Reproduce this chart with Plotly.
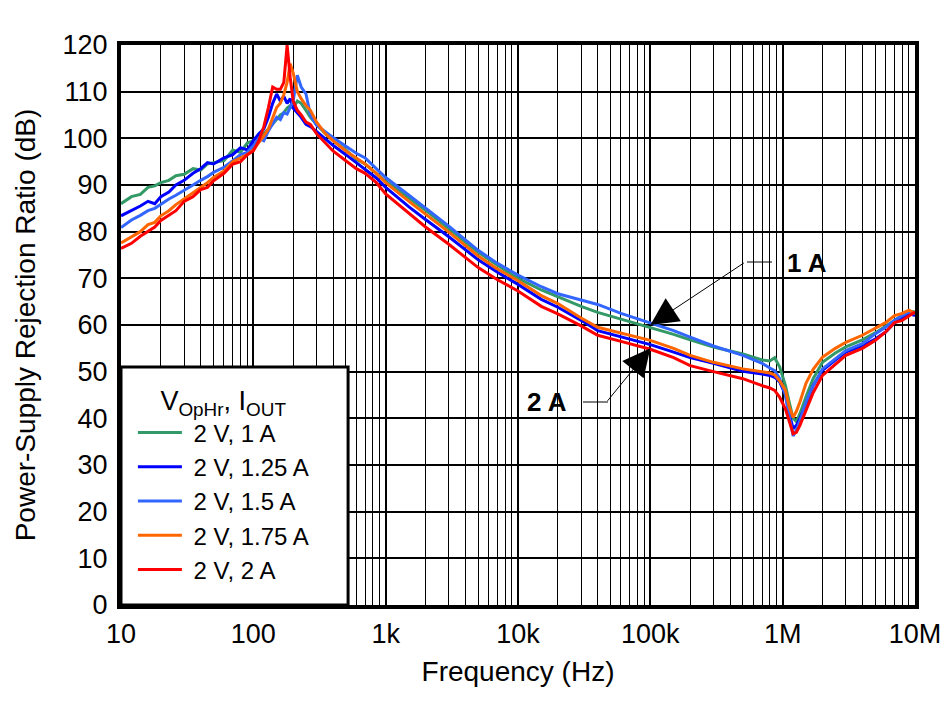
import plotly.graph_objects as go

freq_hz = [10, 12, 14, 16, 18, 20, 23, 26, 30, 35, 40, 45, 50, 60, 70, 80, 90,
           100, 110, 120, 130, 140, 150, 160, 170, 180, 190, 200, 215, 230, 250, 270,
           300, 350, 400, 500, 600, 700, 850, 1e3, 1.5e3, 2e3, 3e3, 5e3, 7e3, 1e4,
           1.5e4, 2e4, 3e4, 4e4, 6e4, 1e5, 1.5e5, 2e5, 3e5, 5e5, 7e5, 8e5, 8.7e5,
           9.5e5, 1.05e6, 1.12e6, 1.2e6, 1.27e6, 1.35e6, 1.5e6, 1.7e6, 2e6, 2.5e6,
           3e6, 4e6, 5e6, 6e6, 7e6, 8e6, 9e6, 1e7]

psrr_1a = [86.0, 87.5, 88.0, 89.5, 89.8, 90.5, 91.0, 92.0, 92.3, 93.5, 93.2, 94.5, 94.8, 95.2, 97.5, 97.0, 99.0,
           99.5, 100.5, 101.0, 102.0, 103.0, 104.0, 105.0, 105.5, 106.5, 107.0, 106.5, 108.0, 107.5, 106.0, 104.5,
           103.0, 101.0, 99.5, 97.5, 95.5, 94.5, 92.5, 90.8, 87.2, 84.6, 80.6, 75.6, 72.8, 70.0,
           67.5, 66.0, 64.0, 62.7, 61.3, 59.5, 58.0, 56.8, 55.3, 53.8, 52.5, 52.3, 53.0,
           51.0, 47.0, 43.5, 40.0, 39.3, 41.0, 44.6, 48.5, 52.0, 54.0,
           55.3, 56.8, 58.3, 59.8, 61.0, 62.0, 63.0, 62.8]

psrr_125a = [83.4, 84.5, 85.5, 86.5, 86.0, 87.5, 88.5, 90.0, 91.0, 92.5, 93.5, 94.8, 94.5, 95.8, 96.5, 98.0, 97.5,
             99.5, 101.0, 102.0, 104.5, 107.5, 109.5, 108.0, 109.0, 107.5, 108.5, 106.5, 105.5, 104.5, 103.0, 102.5,
             101.5, 99.8, 98.5, 96.5, 94.8, 93.5, 91.5, 89.5, 85.3, 82.6, 78.9, 74.0, 71.3, 68.7,
             65.5, 63.8, 61.0, 58.8, 57.5, 55.8, 54.2, 53.0, 51.8, 50.1, 49.5, 49.2, 48.8,
             47.8, 45.0, 41.0, 37.8, 38.5, 40.0, 43.0, 47.0, 50.3, 52.5,
             54.2, 55.5, 57.0, 58.5, 60.5, 61.5, 62.5, 62.0]

psrr_15a = [80.9, 82.5, 83.5, 84.5, 85.0, 85.9, 87.0, 87.8, 88.8, 90.0, 91.0, 91.8, 92.7, 93.8, 95.2, 96.5, 97.0,
            98.4, 100.0, 99.5, 101.6, 103.0, 104.5, 104.0, 105.5, 105.2, 106.5, 108.0, 113.5, 111.0, 109.5, 105.0,
            102.8, 101.5, 100.2, 98.3, 96.8, 95.8, 93.5, 91.6, 87.8, 85.0, 81.2, 76.0, 73.2, 70.7,
            68.2, 66.7, 65.3, 64.4, 62.5, 60.5, 58.8, 57.4, 55.5, 53.5, 51.8, 50.8, 50.2,
            48.5, 45.0, 40.5, 36.2, 37.5, 39.5, 43.5, 47.0, 50.6, 52.8,
            54.5, 56.0, 58.1, 59.5, 61.0, 62.0, 62.8, 62.5]

psrr_175a = [77.6, 79.0, 80.0, 81.5, 82.0, 83.4, 84.5, 85.8, 87.0, 88.3, 89.5, 90.5, 91.6, 93.0, 95.0, 95.8, 96.5,
             97.5, 99.0, 100.5, 102.0, 104.5, 106.6, 107.5, 109.4, 112.0, 116.0, 114.0, 110.0, 108.5, 107.0, 106.0,
             103.5, 101.0, 99.5, 97.3, 95.8, 94.5, 92.5, 90.5, 86.5, 83.8, 79.9, 74.8, 72.0, 69.5,
             66.3, 64.6, 61.5, 59.5, 58.3, 56.7, 55.0, 53.5, 52.0, 50.6, 50.0, 49.7, 49.3,
             48.0, 46.0, 42.5, 40.2, 41.5, 43.5, 47.5, 50.5, 53.1, 55.0,
             56.3, 57.8, 59.2, 60.5, 62.0, 62.5, 63.2, 62.5]

psrr_2a = [76.4, 77.5, 79.0, 80.0, 81.0, 82.4, 83.5, 84.5, 86.5, 87.5, 89.0, 89.5, 90.9, 92.5, 94.5, 95.0, 96.5,
           97.3, 99.5, 102.5, 106.6, 111.0, 110.5, 110.5, 112.0, 120.0, 113.0, 108.0, 106.0, 105.0, 103.5, 103.0,
           101.0, 99.0, 97.3, 95.2, 93.5, 92.5, 90.5, 88.1, 84.0, 81.0, 77.3, 72.3, 69.7, 67.3,
           64.0, 62.4, 59.8, 57.8, 56.5, 54.8, 53.0, 51.3, 50.0, 48.5, 47.0, 46.5, 46.0,
           44.5, 42.0, 39.5, 36.7, 37.0, 38.5, 41.7, 45.5, 49.2, 51.5,
           53.5, 55.0, 56.7, 58.5, 60.5, 61.0, 62.0, 62.8]

series_names = ["\u00a02 V, 1 A", "\u00a02 V, 1.25 A", "\u00a02 V, 1.5 A", "\u00a02 V, 1.75 A", "\u00a02 V, 2 A"]
series_colors = ["#339966", "#0000FF", "#3366FF", "#FF6600", "#FF0000"]
series_values = [psrr_1a, psrr_125a, psrr_15a, psrr_175a, psrr_2a]

x_tick_vals = [10, 100, 1e3, 1e4, 1e5, 1e6, 1e7]
x_tick_text = ["10", "100", "1k", "10k", "100k", "1M", "10M"]

FONT = "Arial, Liberation Sans, sans-serif"

fig = go.Figure()
for name, vals, color in zip(series_names, series_values, series_colors):
    fig.add_trace(go.Scatter(x=freq_hz, y=vals, mode="lines", name=name,
                             line=dict(color=color, width=3)))

minor_vals = [m * 10 ** d for d in range(1, 7) for m in range(2, 10)]

fig.update_layout(
    width=944, height=701,
    margin=dict(l=121, r=29, t=45, b=96),
    paper_bgcolor="white", plot_bgcolor="white",
    font=dict(family=FONT, color="black", size=27),
    xaxis=dict(type="log", range=[1, 7], tickmode="array", tickvals=x_tick_vals,
               ticktext=x_tick_text, showgrid=True, gridcolor="black", gridwidth=1.5,
               minor=dict(tickmode="array", tickvals=minor_vals, showgrid=True,
                          gridcolor="black", gridwidth=1.2),
               showline=True, linecolor="black", linewidth=4, mirror=True, automargin=False,
               ticks="", tickfont=dict(size=27), ticklabelstandoff=2,
               title=dict(text="Frequency (Hz)", font=dict(size=28), standoff=14),
               zeroline=False),
    yaxis=dict(range=[0, 120], dtick=10, showgrid=True, gridcolor="black", gridwidth=1.5,
               showline=True, linecolor="black", linewidth=4, mirror=True, automargin=False,
               ticks="", tickfont=dict(size=27), zeroline=False, ticklabelstandoff=4,
               title=dict(text="Power-Supply Rejection Ratio (dB)", font=dict(size=28), standoff=20)),
    legend=dict(x=0.015, y=0.41, xanchor="left", yanchor="top",
                bgcolor="rgba(0,0,0,0)", borderwidth=0,
                font=dict(size=24), itemwidth=44,
                title=dict(text="V<sub>OpHr</sub>, I<sub>OUT</sub>", side="top center",
                           font=dict(size=27))),
    showlegend=True,
)

# legend frame
fig.add_shape(type="rect", xref="paper", yref="paper", x0=0.0, y0=0.0, x1=0.286, y1=0.425,
              fillcolor="white", line=dict(color="black", width=3), layer="above")

# callouts
fig.add_annotation(x=5, y=60, xref="x", yref="y", text="", showarrow=True,
                   ax=95, ay=-63, arrowhead=2, arrowsize=5.5, arrowwidth=1, arrowcolor="black")
fig.add_annotation(x=5, y=55, xref="x", yref="y", text="", showarrow=True,
                   ax=-44, ay=54, arrowhead=2, arrowsize=5.5, arrowwidth=1, arrowcolor="black")
fig.add_shape(type="line", xref="paper", yref="paper", x0=0.7884, x1=0.8199, y0=0.6125, y1=0.6125,
              line=dict(color="black", width=1), layer="above")
fig.add_shape(type="line", xref="paper", yref="paper", x0=0.5819, x1=0.6134, y0=0.3625, y1=0.3625,
              line=dict(color="black", width=1), layer="above")
fig.add_annotation(x=0.864, y=0.611, xref="paper", yref="paper", text="<b>1 A</b>",
                   xanchor="center", yanchor="middle", showarrow=False, font=dict(size=26))
fig.add_annotation(x=0.5365, y=0.3625, xref="paper", yref="paper", text="<b>2 A</b>",
                   xanchor="center", yanchor="middle", showarrow=False, font=dict(size=26))

fig.write_html("out.html", config={"displayModeBar": False},
               post_script="document.body.style.margin='0';document.body.style.overflow='hidden';")
